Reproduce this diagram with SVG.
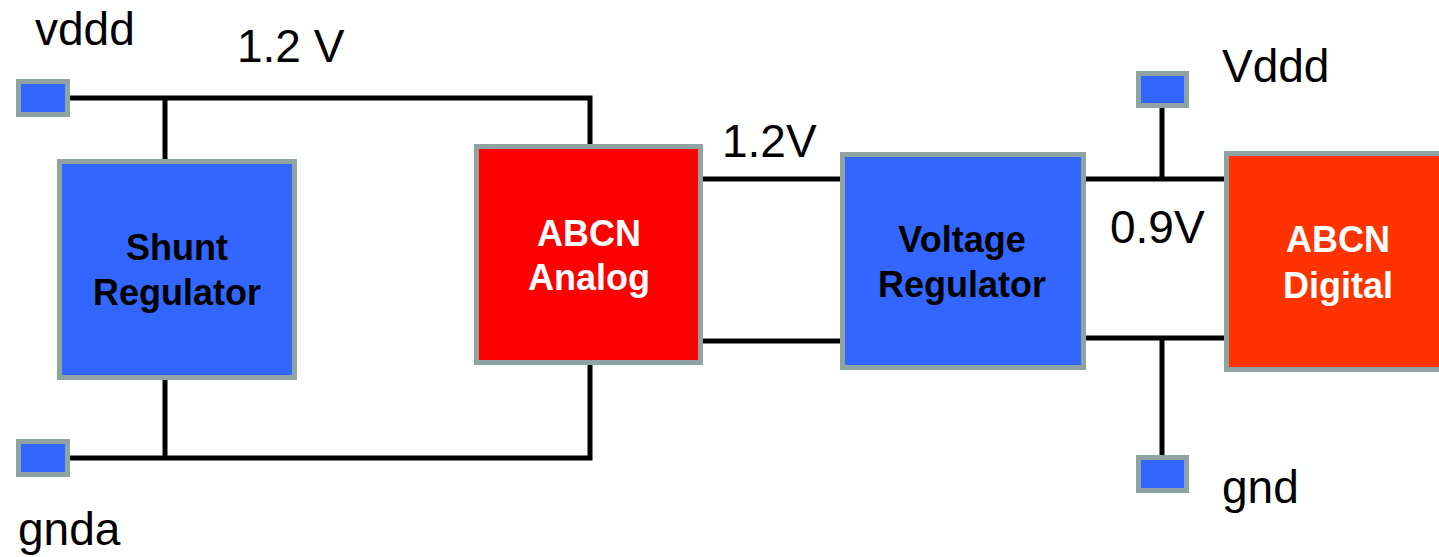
<svg xmlns="http://www.w3.org/2000/svg" width="1439" height="557" viewBox="0 0 1439 557">
<style>
.box{stroke:#8fa3a3;stroke-width:5}
.blue{fill:#3366ff}
.red{fill:#ff0000}
.orange{fill:#ff3300}
.wire{stroke:#000;stroke-width:5;fill:none}
.lbl{font-family:"Liberation Sans",Arial,sans-serif;font-size:46px;fill:#000}
.bl{font-family:"Liberation Sans",Arial,sans-serif;font-size:36px;font-weight:bold;text-anchor:middle}
</style>
<rect width="1439" height="557" fill="#fff"/>
<g id="connectors">
<polyline class="wire" points="67,98 590,98 590,146"/>
<line class="wire" x1="165" y1="98" x2="165" y2="161"/>
<polyline class="wire" points="67,458 590,458 590,363"/>
<line class="wire" x1="165" y1="458" x2="165" y2="378"/>
<line class="wire" x1="701" y1="179" x2="842" y2="179"/>
<line class="wire" x1="701" y1="341" x2="842" y2="341"/>
<line class="wire" x1="1085" y1="179" x2="1226" y2="179"/>
<line class="wire" x1="1085" y1="338" x2="1226" y2="338"/>
<line class="wire" x1="1162" y1="106" x2="1162" y2="179"/>
<line class="wire" x1="1162" y1="338" x2="1162" y2="457"/>
</g>
<g id="pad-vddd"><rect class="box blue" x="18.5" y="81.5" width="49" height="33"/><text class="lbl" x="35" y="45">vddd</text></g>
<g id="pad-gnda"><rect class="box blue" x="18.5" y="441.5" width="49" height="33"/><text class="lbl" x="18" y="545">gnda</text></g>
<g id="pad-Vddd"><rect class="box blue" x="1138.5" y="73.5" width="48" height="32"/><text class="lbl" x="1222" y="82">Vddd</text></g>
<g id="pad-gnd"><rect class="box blue" x="1138.5" y="457.5" width="48" height="33"/><text class="lbl" x="1222" y="503">gnd</text></g>
<g id="label-12a"><text class="lbl" x="237" y="62">1.2 V</text></g>
<g id="label-12b"><text class="lbl" x="722" y="157">1.2V</text></g>
<g id="label-09"><text class="lbl" x="1110" y="243">0.9V</text></g>
<g id="shunt"><rect class="box blue" x="59.5" y="161.5" width="235" height="216"/><text class="bl" x="177" y="260" fill="#000">Shunt</text><text class="bl" x="177" y="305" fill="#000">Regulator</text></g>
<g id="analog"><rect class="box red" x="476.5" y="146.5" width="224" height="216"/><text class="bl" x="589" y="246" fill="#fff">ABCN</text><text class="bl" x="589" y="290" fill="#fff">Analog</text></g>
<g id="vreg"><rect class="box blue" x="842.5" y="154.5" width="241" height="213"/><text class="bl" x="962" y="252" fill="#000">Voltage</text><text class="bl" x="962" y="297" fill="#000">Regulator</text></g>
<g id="digital"><rect class="box orange" x="1226.5" y="153.5" width="220" height="216"/><text class="bl" x="1338" y="252" fill="#fff">ABCN</text><text class="bl" x="1338" y="298" fill="#fff">Digital</text></g>
</svg>
